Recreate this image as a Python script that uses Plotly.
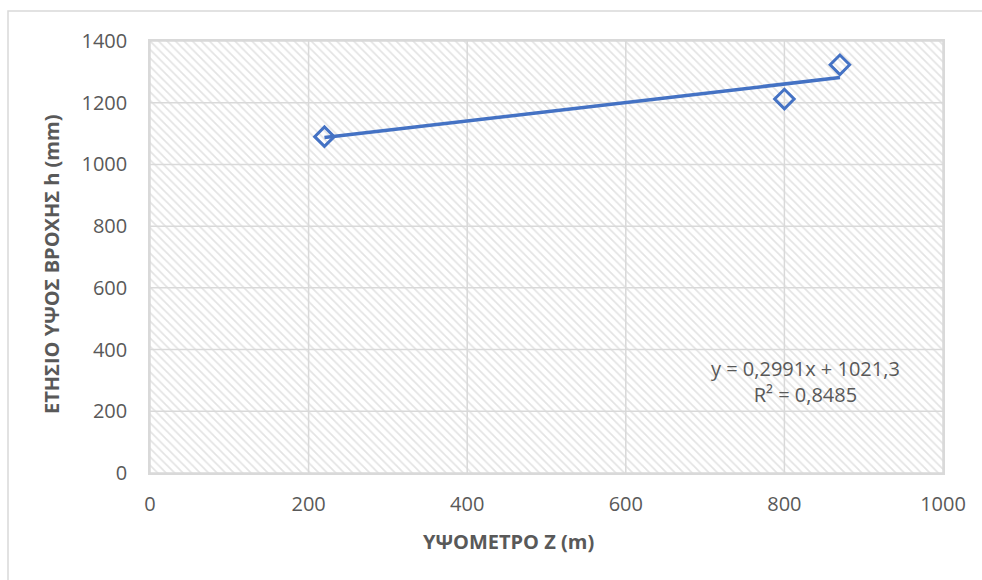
import plotly.graph_objects as go

# Data
altitude_m = [220, 800, 870]
rainfall_mm = [1090, 1212, 1323]
slope = 0.2991
intercept = 1021.3
r_squared = 0.8485
x_ticks = [0, 200, 400, 600, 800, 1000]
y_ticks = [0, 200, 400, 600, 800, 1000, 1200, 1400]

blue = "#4472C4"
gray_text = "#595959"
grid = "#d9d9d9"
font = "Open Sans"
xr = [0, 1000]
yr = [0, 1400]

fig = go.Figure()

# hatched plot background
fig.add_trace(go.Scatter(
    x=[xr[0], xr[1], xr[1], xr[0], xr[0]], y=[yr[0], yr[0], yr[1], yr[1], yr[0]],
    mode="lines", line=dict(width=0), fill="toself",
    fillcolor="rgba(0,0,0,0)",
    fillpattern=dict(shape="\\", size=6, solidity=0.28, fgcolor="#c8c8c8", bgcolor="white"),
    hoverinfo="skip", showlegend=False,
))

# gridlines drawn above the hatch
gx, gy = [], []
for t in x_ticks:
    gx += [t, t, None]
    gy += [yr[0], yr[1], None]
for t in y_ticks:
    gx += [xr[0], xr[1], None]
    gy += [t, t, None]
fig.add_trace(go.Scatter(x=gx, y=gy, mode="lines", line=dict(color=grid, width=1.5),
                         hoverinfo="skip", showlegend=False))

x0, x1 = min(altitude_m), max(altitude_m)
fig.add_trace(go.Scatter(
    x=[x0, x1], y=[slope * x0 + intercept, slope * x1 + intercept],
    mode="lines", line=dict(color=blue, width=3.5), showlegend=False,
))

fig.add_trace(go.Scatter(
    x=altitude_m, y=rainfall_mm, mode="markers",
    marker=dict(symbol="diamond-open", size=15, color=blue, line=dict(width=3, color=blue)),
    showlegend=False,
))

def fmt(v, d):
    return f"{v:.{d}f}".replace(".", ",")

fig.add_annotation(
    x=826, y=297, xref="x", yref="y", showarrow=False,
    text=f"y = {fmt(slope,4)}x + {fmt(intercept,1)}<br>R² = {fmt(r_squared,4)}",
    font=dict(family=font, size=20, color=gray_text), align="center",
)

# axis titles
fig.add_annotation(x=(508 - 150) / 793, y=(473 - 541) / 432, xref="paper", yref="paper",
                   xanchor="center", yanchor="middle",
                   showarrow=False, text="<b>ΥΨΟΜΕΤΡΟ Z (m)</b>",
                   font=dict(family=font, size=20, color=gray_text))
fig.add_annotation(x=(51 - 150) / 793, y=(473 - 265) / 432, xref="paper", yref="paper",
                   xanchor="center", yanchor="middle",
                   showarrow=False, text="<b>ΕΤΗΣΙΟ ΥΨΟΣ ΒΡΟΧΗΣ h (mm)</b>", textangle=-90,
                   font=dict(family=font, size=20, color=gray_text))

# outer chart border
fig.add_shape(type="rect", xref="paper", yref="paper",
              x0=(8 - 150) / 793, x1=(1000 - 150) / 793,
              y0=(473 - 600) / 432, y1=(473 - 11) / 432,
              line=dict(color="#d9d9d9", width=1.5), fillcolor="rgba(0,0,0,0)", layer="below")

fig.update_layout(
    width=982, height=580,
    margin=dict(l=150, r=39, t=41, b=107),
    paper_bgcolor="white", plot_bgcolor="white",
    font=dict(family=font, color=gray_text),
    xaxis=dict(range=xr, tickvals=x_ticks, showgrid=False,
               zeroline=False, showline=True, linecolor=grid, linewidth=1.5, mirror=True,
               tickfont=dict(size=20, color=gray_text), ticks="", ticklabelstandoff=12),
    yaxis=dict(range=yr, tickvals=y_ticks, showgrid=False,
               zeroline=False, showline=True, linecolor=grid, linewidth=1.5, mirror=True,
               tickfont=dict(size=20, color=gray_text), ticks="", ticklabelstandoff=17),
)

fig.write_html("out.html")
